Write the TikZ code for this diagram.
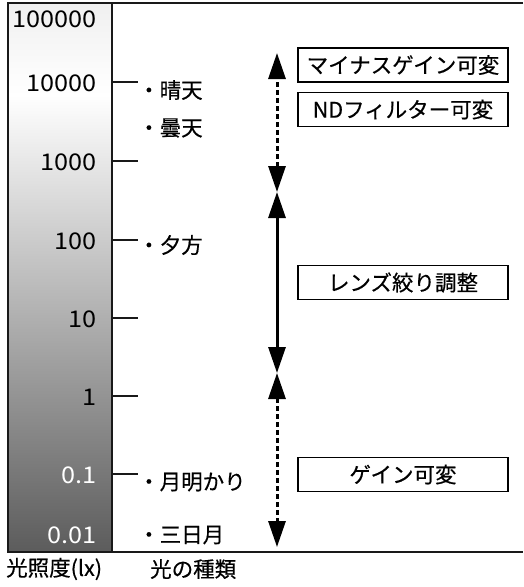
\documentclass[tikz,border=0pt]{standalone}
\usepackage{fontspec}
\setmainfont{Noto Sans CJK JP}[FakeBold=0.5]
\newfontfamily\numfont{Noto Sans CJK JP}[FakeStretch=1.1]
\usetikzlibrary{arrows.meta}

\tikzset{
  lvl/.style={anchor=east, inner sep=0pt, font=\numfont\fontsize{23}{24}\selectfont},
  kind/.style={anchor=west, inner sep=0pt, font=\fontsize{21.5}{22}\selectfont},
  mode/.style={draw, line width=1.4pt, minimum width=210pt, minimum height=34pt, inner sep=0pt, font=\fontsize{21.5}{22}\selectfont},
  bigtip/.tip={Triangle[length=26pt,width=17pt]},
  solidrange/.style={line width=3pt, bigtip-bigtip},
  dashrange/.style={line width=3pt, dash pattern=on 5pt off 3pt, bigtip-bigtip}
}

\begin{document}
\begin{tikzpicture}[x=1pt, y=-1pt]
  \useasboundingbox (0,0) rectangle (523,587);
  % grey scale bar
  \shade[top color=gray!12, bottom color=white] (8,3) rectangle (112,95);
  \shade[top color=white, bottom color=black!64] (8,95) rectangle (112,552);
  \draw[line width=2pt, gray!20!black] (523,3) -- (8,3) -- (8,552) -- (523,552);
  \draw[line width=2pt, gray!20!black] (112,3) -- (112,552);

  % illuminance levels
  \node[lvl] (l5) at (97,19.5) {100000};
  \node[lvl] (l4) at (97,83) {10000};
  \node[lvl] (l3) at (97,162) {1000};
  \node[lvl] (l2) at (97,241) {100};
  \node[lvl] (l1) at (97,319) {10};
  \node[lvl] (l0) at (97,397) {1};
  \node[lvl, white] (lm1) at (97,475) {0.1};
  \node[lvl, white] (lm2) at (97,535) {0.01};
  \foreach \y in {82,161,240,318,396,474}
    \draw[line width=1.3pt, gray!20!black] (112,\y) -- (138,\y);

  % kinds of light
  \node[kind] (sunny) at (138,90) {・晴天};
  \node[kind] (cloudy) at (138,128) {・曇天};
  \node[kind] (dusk) at (138,245) {・夕方};
  \node[kind] (moon) at (138,482) {・月明かり};
  \node[kind] (crescent) at (138,535) {・三日月};

  % control ranges
  \coordinate (r4) at (277,53);
  \coordinate (r3) at (277,192);
  \coordinate (r2) at (277,373);
  \coordinate (r1) at (277,547);
  \draw[dashrange] (r3) -- (r4);
  \draw[solidrange] (r3) -- (r2);
  \draw[dashrange] (r2) -- (r1);

  \node[mode] (minus) at (403,65) {マイナスゲイン可変};
  \node[mode] (nd) at (403,109.5) {NDフィルター可変};
  \node[mode] (iris) at (403,282.5) {レンズ絞り調整};
  \node[mode] (gain) at (403,474.5) {ゲイン可変};

  % captions
  \node[anchor=west, inner sep=0pt, font=\fontsize{21.5}{22}\selectfont] (lux) at (6,569) {光照度(lx)};
  \node[anchor=west, inner sep=0pt, font=\fontsize{21.5}{22}\selectfont] (type) at (150,569) {光の種類};
\end{tikzpicture}
\end{document}
